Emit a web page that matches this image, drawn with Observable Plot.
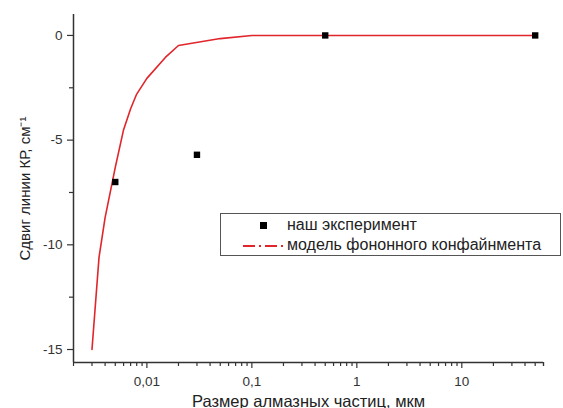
<!DOCTYPE html>
<html>
<head>
<meta charset="utf-8">
<script src="https://cdn.jsdelivr.net/npm/d3@7"></script>
<script src="https://cdn.jsdelivr.net/npm/@observablehq/plot@0.6"></script>
<style>
  html, body { margin: 0; padding: 0; background: #fff; }
  #wrap { position: relative; width: 563px; height: 408px; font-family: "Liberation Sans", Arial, sans-serif; }
  #legend { position: absolute; left: 220px; top: 213px; width: 341px; height: 43px; border: 1px solid #555; box-sizing: border-box; background: #fff; font-size: 16px; color: #222; }
  .row { position: absolute; left: 0; height: 20px; line-height: 20px; white-space: nowrap; }
  .row span.t { position: absolute; left: 66px; }
</style>
</head>
<body>
<div id="wrap">
  <div id="chart"></div>
  <div id="legend">
    <div class="row" style="top:1px;"><svg width="60" height="20" style="position:absolute;left:0;top:0"><rect x="39" y="7" width="7" height="7" fill="#000"/></svg><span class="t">наш эксперимент</span></div>
    <div class="row" style="top:21px;"><svg width="66" height="20" style="position:absolute;left:0;top:0"><line x1="22" x2="62" y1="11" y2="11" stroke="#e0262b" stroke-width="2" stroke-dasharray="12,4,2,4"/></svg><span class="t">модель фононного конфайнмента</span></div>
  </div>
</div>
<script>
// Experimental points
const expSize = [0.005, 0.03, 0.5, 50];
const expShift = [-7.0, -5.7, 0, 0];

// Phonon confinement model curve
const modelSize = [0.003, 0.0035, 0.004, 0.005, 0.006, 0.007, 0.008, 0.01, 0.015, 0.02, 0.05, 0.1, 0.5, 1, 5, 10, 50];
const modelShift = [-15.0, -10.6, -8.7, -6.3, -4.5, -3.5, -2.8, -2.05, -1.05, -0.48, -0.15, 0, 0, 0, 0, 0, 0];

// Tick labels
const xMajor = [0.01, 0.1, 1, 10];
const xMajorLabels = ["0,01", "0,1", "1", "10"];
const yMajor = [0, -5, -10, -15];
const yMinor = [-2.5, -7.5, -12.5];

const xDomain = [0.002, 60];
const yDomain = [-15.62, 1.0];

const xMinor = [];
for (const dec of [0.001, 0.01, 0.1, 1, 10]) {
  for (let k = 2; k <= 9; k++) {
    const v = +(k * dec).toPrecision(3);
    if (v >= xDomain[0] && v <= xDomain[1]) xMinor.push(v);
  }
}
xMinor.push(60);

const expData = expSize.map((s, i) => ({size: s, shift: expShift[i]}));
const modelData = modelSize.map((s, i) => ({size: s, shift: modelShift[i]}));

const axisColor = "#333";
const xLabel = "Размер алмазных частиц, мкм";
const yLabel = "Сдвиг линии КР, см⁻¹";

const chart = Plot.plot({
  width: 563,
  height: 408,
  marginLeft: 73,
  marginRight: 20,
  marginTop: 14,
  marginBottom: 46,
  style: {fontFamily: "Liberation Sans, Arial, sans-serif", fontSize: "13.5px", color: "#333", background: "#fff"},
  x: {type: "log", domain: xDomain, label: null},
  y: {domain: yDomain, label: null},
  marks: [
    Plot.axisX({ticks: xMinor, tickSize: 4, tickFormat: () => "", label: null, stroke: axisColor, strokeWidth: 1.2}),
    Plot.axisX({ticks: xMajor, tickSize: 6, tickPadding: 8, stroke: axisColor, strokeWidth: 1.2,
      tickFormat: d => xMajorLabels[xMajor.indexOf(d)] ?? "",
      label: xLabel, labelAnchor: "center", labelArrow: "none", labelOffset: 44}),
    Plot.axisY({ticks: yMinor, tickSize: 4, tickFormat: () => "", label: null, stroke: axisColor, strokeWidth: 1.2}),
    Plot.axisY({ticks: yMajor, tickSize: 6, tickPadding: 5, stroke: axisColor, strokeWidth: 1.2,
      tickFormat: d => String(d),
      label: yLabel, labelAnchor: "center", labelArrow: "none", labelOffset: 54}),
    Plot.ruleX([xDomain[0]], {stroke: axisColor, strokeWidth: 1.5}),
    Plot.ruleY([yDomain[0]], {stroke: axisColor, strokeWidth: 1.5}),
    Plot.line(modelData, {x: "size", y: "shift", stroke: "#e0262b", strokeWidth: 1.6}),
    Plot.dot(expData, {x: "size", y: "shift", symbol: "square", r: 3.6, fill: "#000", stroke: "none"})
  ]
});
chart.querySelectorAll("text").forEach(t => {
  const size = t.textContent === xLabel ? 16.5 : t.textContent === yLabel ? 15 : null;
  if (size) {
    t.setAttribute("font-size", String(size));
    t.style.fontSize = size + "px";
    t.setAttribute("fill", "#222");
  }
});
document.getElementById("chart").appendChild(chart);
</script>
</body>
</html>
